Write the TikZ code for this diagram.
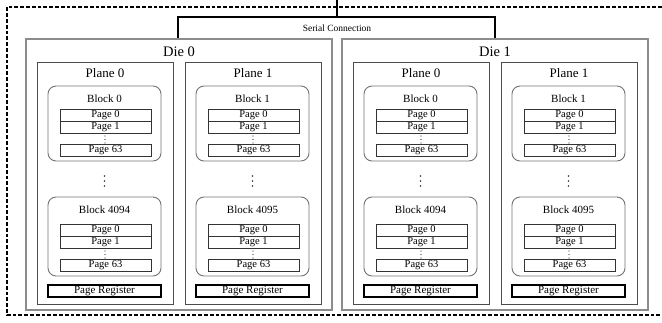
\documentclass[tikz,border=0pt]{standalone}
\usepackage{fontspec}
\setmainfont{Liberation Serif}
\usetikzlibrary{calc}
\begin{document}
\begin{tikzpicture}[x=1pt,y=-1pt,
  box/.style={anchor=north west, inner sep=0pt, outer sep=0pt},
  diebox/.style={box, draw=black!45, line width=1.4pt, minimum width=306pt, minimum height=271pt},
  planebox/.style={box, draw=black!70, line width=0.9pt, minimum width=136pt, minimum height=242pt},
  blockbox/.style={box, draw=black!55, line width=0.9pt, rounded corners=8pt, minimum width=113pt},
  pagebox/.style={box, draw=black!80, line width=0.8pt, minimum width=91pt, minimum height=12pt,
     font=\fontsize{10.5}{10.5}\selectfont},
  regbox/.style={box, draw=black, line width=1.6pt, minimum width=113pt, minimum height=12pt,
     font=\fontsize{11}{11}\selectfont},
  dietext/.style={inner sep=0pt, font=\fontsize{14.5}{14.5}\selectfont},
  planetext/.style={inner sep=0pt, font=\fontsize{13}{13}\selectfont},
  blocktext/.style={inner sep=0pt, font=\fontsize{11}{11}\selectfont},
  dot/.style={fill=black!80}
]
\useasboundingbox (0,0) rectangle (662,322);
% outer dashed frame
\draw[line width=1.3pt, dash pattern=on 3.8pt off 2pt] (662,7) -- (7,7) -- (7,315) -- (662,315);
% serial connection
\coordinate (feed) at (337,0);
\coordinate (sctop) at (337,17);
\coordinate (scl) at (178,39);
\coordinate (scr) at (495,39);
\draw[line width=1.2pt] (scl) -- ++(0,-22) -| (scr);
\draw[line width=1.2pt] (feed) -- (sctop);
\node[inner sep=0pt, font=\fontsize{9.5}{9.5}\selectfont] (serial) at (337,28) {Serial Connection};
\foreach \d/\dx in {0/26,1/342} {
  \node[diebox] (die\d) at (\dx,39) {};
  \node[dietext] (dielabel\d) at (\dx+153,52) {Die \d};
  \foreach \p/\px in {0/11,1/159} {
    \pgfmathsetmacro\X{\dx+\px}
    \node[planebox] (plane\d\p) at (\X,62) {};
    \node[planetext] (planelabel\d\p) at (\X+68,73) {Plane \p};
    % top block
    \node[blockbox, minimum height=75pt] (blkA\d\p) at (\X+11,86) {};
    \node[blocktext] (blkAlabel\d\p) at (\X+67.5,99) {Block \p};
    \node[pagebox] (pA0\d\p) at (\X+23,109) {Page 0};
    \node[pagebox] (pA1\d\p) at (\X+23,121) {Page 1};
    \node[pagebox] (pA63\d\p) at (\X+23,144) {Page 63};
    \foreach \yy in {136,139.5,143} {\fill[dot] (\X+68,\yy) circle (0.6pt);}
    % vertical dots between blocks
    \foreach \yy in {176,181,186} {\fill[dot] (\X+67.5,\yy) circle (0.9pt);}
    % bottom block
    \pgfmathtruncatemacro\bn{4094+\p}
    \node[blockbox, minimum height=79pt] (blkB\d\p) at (\X+11,197) {};
    \node[blocktext] (blkBlabel\d\p) at (\X+67.5,210) {Block \bn};
    \node[pagebox] (pB0\d\p) at (\X+23,224) {Page 0};
    \node[pagebox] (pB1\d\p) at (\X+23,236) {Page 1};
    \node[pagebox] (pB63\d\p) at (\X+23,259) {Page 63};
    \foreach \yy in {251,254.5,258} {\fill[dot] (\X+68,\yy) circle (0.6pt);}
    % page register
    \node[regbox] (reg\d\p) at (\X+11,285) {Page Register};
  }
}
\end{tikzpicture}
\end{document}
